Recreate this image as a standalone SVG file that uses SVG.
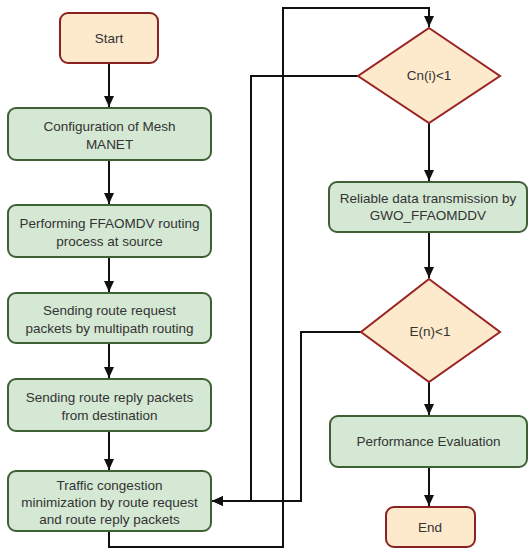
<svg xmlns="http://www.w3.org/2000/svg" width="529" height="549" viewBox="0 0 529 549">
<defs>
<marker id="arr" markerUnits="userSpaceOnUse" markerWidth="12" markerHeight="12" viewBox="0 0 12 12" refX="11" refY="6" orient="auto">
<path d="M0,1 L11,6 L0,11 Z" fill="#111"/>
</marker>
<style>
.proc{fill:#d5e8d4;stroke:#3f5f35;stroke-width:2}
.term{fill:#fde9cc;stroke:#8a2222;stroke-width:2}
.dec{fill:#fde9cc;stroke:#9a2424;stroke-width:2}
.t{font-family:"Liberation Sans",Arial,sans-serif;font-size:13.5px;fill:#333;text-anchor:middle}
.c{fill:none;stroke:#111;stroke-width:2}
</style>
</defs>
<rect width="529" height="549" fill="#fff"/>
<g id="connectors">
<path class="c" d="M109,63 V107" marker-end="url(#arr)"/>
<path class="c" d="M109,160 V204" marker-end="url(#arr)"/>
<path class="c" d="M109,257 V292" marker-end="url(#arr)"/>
<path class="c" d="M109,343 V378" marker-end="url(#arr)"/>
<path class="c" d="M109,431 V470" marker-end="url(#arr)"/>
<path class="c" d="M109,531 V547 H283 V8 H429 V27" marker-end="url(#arr)"/>
<path class="c" d="M358,76 H251 V501 H212" marker-end="url(#arr)"/>
<path class="c" d="M429,123 V181" marker-end="url(#arr)"/>
<path class="c" d="M429,232 V278" marker-end="url(#arr)"/>
<path class="c" d="M361,332 H301 V501 H212" marker-end="url(#arr)"/>
<path class="c" d="M429,382 V415" marker-end="url(#arr)"/>
<path class="c" d="M429,467 V506" marker-end="url(#arr)"/>
</g>
<g id="start"><rect class="term" x="60" y="13" width="98" height="50" rx="8"/><text class="t" x="109" y="43">Start</text></g>
<g id="config"><rect class="proc" x="8" y="108" width="203" height="52" rx="8"/><text class="t" x="109.5" y="131">Configuration of Mesh</text><text class="t" x="109.5" y="149">MANET</text></g>
<g id="perform"><rect class="proc" x="8" y="205" width="203" height="52" rx="8"/><text class="t" x="109.5" y="228">Performing FFAOMDV routing</text><text class="t" x="109.5" y="246">process at source</text></g>
<g id="sendreq"><rect class="proc" x="8" y="293" width="203" height="50" rx="8"/><text class="t" x="109.5" y="315">Sending route request</text><text class="t" x="109.5" y="333">packets by multipath routing</text></g>
<g id="sendrep"><rect class="proc" x="8" y="379" width="203" height="52" rx="8"/><text class="t" x="109.5" y="402">Sending route reply packets</text><text class="t" x="109.5" y="420">from destination</text></g>
<g id="traffic"><rect class="proc" x="8" y="471" width="203" height="60" rx="8"/><text class="t" x="109.5" y="490">Traffic congestion</text><text class="t" x="109.5" y="507">minimization by route request</text><text class="t" x="109.5" y="524">and route reply packets</text></g>
<g id="cn"><polygon class="dec" points="429,28 500,76 429,123 358,76"/><text class="t" x="429" y="80">Cn(i)&lt;1</text></g>
<g id="reliable"><rect class="proc" x="329" y="182" width="198" height="50" rx="8"/><text class="t" x="428" y="203">Reliable data transmission by</text><text class="t" x="428" y="220">GWO_FFAOMDDV</text></g>
<g id="en"><polygon class="dec" points="429,279 500,332 429,382 361,332"/><text class="t" x="430" y="336">E(n)&lt;1</text></g>
<g id="perf"><rect class="proc" x="330" y="416" width="197" height="51" rx="8"/><text class="t" x="428.5" y="446">Performance Evaluation</text></g>
<g id="end"><rect class="term" x="386" y="507" width="89" height="40" rx="8"/><text class="t" x="430" y="532">End</text></g>
</svg>
